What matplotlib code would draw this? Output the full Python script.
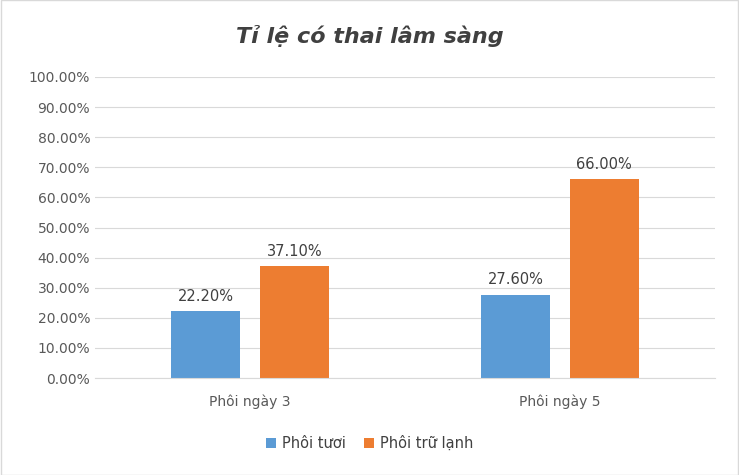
import numpy as np
import matplotlib.pyplot as plt
from matplotlib.ticker import FuncFormatter

categories = ['Phôi ngày 3', 'Phôi ngày 5']
fresh = [22.20, 27.60]
frozen = [37.10, 66.00]
series_names = ['Phôi tươi', 'Phôi trữ lạnh']

blue = '#5B9BD5'
orange = '#ED7D31'

fig = plt.figure(figsize=(7.39, 4.75), dpi=100)
ax = fig.add_axes([0.1286, 0.2042, 0.8389, 0.6337])

x = np.arange(len(categories))
w = 0.222
b1 = ax.bar(x - 0.143, fresh, w, color=blue, label=series_names[0])
b2 = ax.bar(x + 0.143, frozen, w, color=orange, label=series_names[1])

for bars in (b1, b2):
    for r in bars:
        ax.text(r.get_x() + r.get_width() / 2, r.get_height() + 2.5,
                f'{r.get_height():.2f}%', ha='center', va='bottom',
                fontsize=10.5, color='#404040')

ax.set_xlim(-0.5, 1.5)
ax.set_ylim(0, 100)
ax.set_yticks(np.arange(0, 101, 10))
ax.yaxis.set_major_formatter(FuncFormatter(lambda v, p: f'{v:.2f}%'))
ax.set_xticks(x)
ax.set_xticklabels(categories)
ax.tick_params(axis='both', length=0, labelsize=10, colors='#595959')
ax.tick_params(axis='x', pad=12)
ax.grid(axis='y', color='#D9D9D9', linewidth=0.8)
ax.set_axisbelow(True)
for s in ['top', 'right', 'left']:
    ax.spines[s].set_visible(False)
ax.spines['bottom'].set_color('#D9D9D9')

fig.text(0.5, 0.925, 'Tỉ lệ có thai lâm sàng', ha='center', va='center',
         fontsize=16, fontweight='bold', style='italic', color='#404040')

fig.legend(handles=[b1, b2], loc='center', bbox_to_anchor=(0.5, 0.067), ncol=2,
           frameon=False, fontsize=10.5, handlelength=0.7, handleheight=0.7,
           columnspacing=1.2, handletextpad=0.4, labelcolor='#404040')

fig.patches.append(plt.Rectangle((0.001, 0.001), 0.998, 0.998, transform=fig.transFigure,
                                 fill=False, edgecolor='#D9D9D9', linewidth=1))

fig.savefig('out.png', dpi=100)
